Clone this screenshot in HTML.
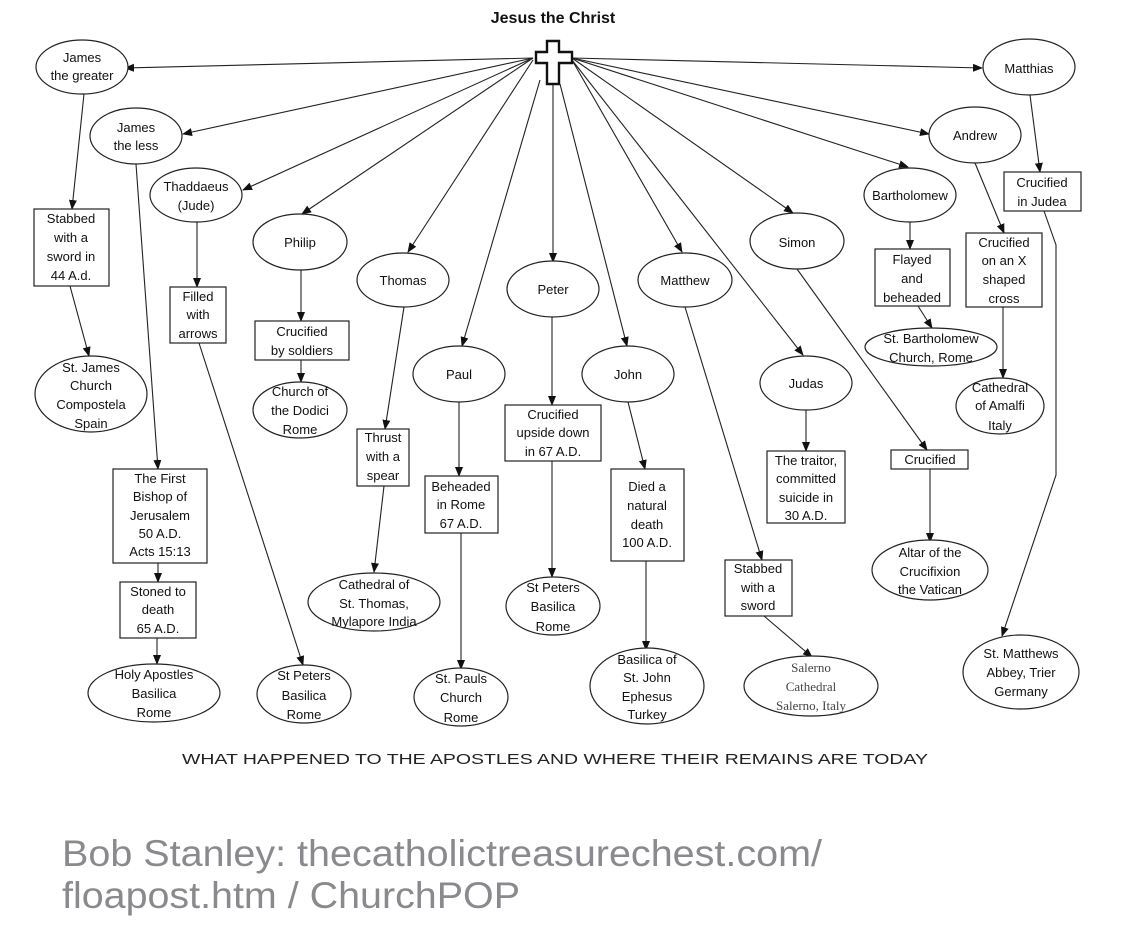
<!DOCTYPE html>
<html><head><meta charset="utf-8"><style>
html,body{margin:0;padding:0;background:#fff;width:1125px;height:932px;overflow:hidden}
svg{display:block}
text{font-family:"Liberation Sans",sans-serif;font-size:13px;fill:#111;text-anchor:middle}
.e,.b{fill:#fff;stroke:#222;stroke-width:1.2}
.l{stroke:#222;stroke-width:1.1;fill:none}
</style></head><body>
<svg width="1125" height="932" viewBox="0 0 1125 932" xmlns="http://www.w3.org/2000/svg">
<defs><marker id="a" markerWidth="10" markerHeight="10" refX="9" refY="4" orient="auto" markerUnits="userSpaceOnUse"><path d="M0,0 L10,4 L0,8 z" fill="#111"/></marker></defs>
<text x="553" y="23" style="font-size:16px;font-weight:bold">Jesus the Christ</text>

<!-- hub edges -->
<g class="l" marker-end="url(#a)">
<line x1="533" y1="58" x2="125" y2="68" marker-end="url(#a)"/>
<line x1="533" y1="58" x2="183" y2="134" marker-end="url(#a)"/>
<line x1="533" y1="58" x2="243" y2="190" marker-end="url(#a)"/>
<line x1="533" y1="58" x2="302" y2="214" marker-end="url(#a)"/>
<line x1="533" y1="60" x2="408" y2="252" marker-end="url(#a)"/>
<line x1="540" y1="80" x2="462" y2="346" marker-end="url(#a)"/>
<line x1="553" y1="84" x2="553" y2="262" marker-end="url(#a)"/>
<line x1="560" y1="84" x2="627" y2="346" marker-end="url(#a)"/>
<line x1="572" y1="60" x2="682" y2="252" marker-end="url(#a)"/>
<line x1="572" y1="60" x2="803" y2="355" marker-end="url(#a)"/>
<line x1="572" y1="58" x2="793" y2="213" marker-end="url(#a)"/>
<line x1="572" y1="58" x2="908" y2="167" marker-end="url(#a)"/>
<line x1="572" y1="58" x2="929" y2="134" marker-end="url(#a)"/>
<line x1="572" y1="58" x2="982" y2="68" marker-end="url(#a)"/>
<!-- child edges -->
<line x1="84" y1="94" x2="72" y2="209" marker-end="url(#a)"/>
<line x1="70" y1="286" x2="89" y2="356" marker-end="url(#a)"/>
<line x1="136" y1="164" x2="158" y2="469" marker-end="url(#a)"/>
<line x1="158" y1="563" x2="158" y2="582" marker-end="url(#a)"/>
<line x1="157" y1="638" x2="157" y2="664" marker-end="url(#a)"/>
<line x1="197" y1="222" x2="197" y2="287" marker-end="url(#a)"/>
<line x1="199" y1="343" x2="303" y2="665" marker-end="url(#a)"/>
<line x1="301" y1="269" x2="301" y2="321" marker-end="url(#a)"/>
<line x1="301" y1="360" x2="301" y2="382" marker-end="url(#a)"/>
<line x1="404" y1="307" x2="385" y2="429" marker-end="url(#a)"/>
<line x1="384" y1="486" x2="374" y2="572" marker-end="url(#a)"/>
<line x1="459" y1="402" x2="459" y2="476" marker-end="url(#a)"/>
<line x1="461" y1="533" x2="461" y2="669" marker-end="url(#a)"/>
<line x1="552" y1="316" x2="552" y2="405" marker-end="url(#a)"/>
<line x1="552" y1="461" x2="552" y2="577" marker-end="url(#a)"/>
<line x1="628" y1="402" x2="645" y2="469" marker-end="url(#a)"/>
<line x1="646" y1="561" x2="646" y2="650" marker-end="url(#a)"/>
<line x1="685" y1="307" x2="762" y2="560" marker-end="url(#a)"/>
<line x1="764" y1="616" x2="812" y2="657" marker-end="url(#a)"/>
<line x1="806" y1="410" x2="806" y2="451" marker-end="url(#a)"/>
<line x1="797" y1="269" x2="927" y2="450" marker-end="url(#a)"/>
<line x1="930" y1="469" x2="930" y2="542" marker-end="url(#a)"/>
<line x1="910" y1="222" x2="910" y2="249" marker-end="url(#a)"/>
<line x1="918" y1="306" x2="932" y2="328" marker-end="url(#a)"/>
<line x1="975" y1="163" x2="1004" y2="233" marker-end="url(#a)"/>
<line x1="1003" y1="307" x2="1003" y2="378" marker-end="url(#a)"/>
<line x1="1030" y1="95" x2="1040" y2="172" marker-end="url(#a)"/>
<polyline points="1044,211 1056,245 1056,475 1002,636" marker-end="url(#a)"/>
</g>

<!-- cross -->
<path d="M547,41 H559 V52 H572 V63 H559 V84 H547 V63 H536 V52 H547 Z" fill="#fff" stroke="#111" stroke-width="2.4"/>

<!-- ellipses -->
<g class="e">
<ellipse cx="82" cy="67" rx="46" ry="27"/>
<ellipse cx="136" cy="136" rx="46" ry="28"/>
<ellipse cx="196" cy="195" rx="46" ry="27"/>
<ellipse cx="300" cy="242" rx="47" ry="28"/>
<ellipse cx="403" cy="280" rx="46" ry="27"/>
<ellipse cx="459" cy="374" rx="46" ry="28"/>
<ellipse cx="553" cy="289" rx="46" ry="28"/>
<ellipse cx="628" cy="374" rx="46" ry="28"/>
<ellipse cx="685" cy="280" rx="47" ry="27"/>
<ellipse cx="797" cy="241" rx="47" ry="28"/>
<ellipse cx="806" cy="383" rx="46" ry="27"/>
<ellipse cx="910" cy="195" rx="46" ry="27"/>
<ellipse cx="975" cy="135" rx="46" ry="28"/>
<ellipse cx="1029" cy="67" rx="46" ry="28"/>
<ellipse cx="91" cy="394" rx="56" ry="38"/>
<ellipse cx="300" cy="410" rx="47" ry="28"/>
<ellipse cx="931" cy="347" rx="66" ry="19"/>
<ellipse cx="1000" cy="406" rx="44" ry="28"/>
<ellipse cx="154" cy="693" rx="66" ry="29"/>
<ellipse cx="304" cy="694" rx="47" ry="29"/>
<ellipse cx="374" cy="602" rx="66" ry="29"/>
<ellipse cx="461" cy="697" rx="47" ry="29"/>
<ellipse cx="553" cy="606" rx="47" ry="29"/>
<ellipse cx="647" cy="686" rx="57" ry="38"/>
<ellipse cx="811" cy="686" rx="67" ry="30"/>
<ellipse cx="930" cy="570" rx="58" ry="30"/>
<ellipse cx="1021" cy="672" rx="58" ry="37"/>
</g>
<!-- boxes -->
<g class="b">
<rect x="34" y="209" width="75" height="77"/>
<rect x="170" y="287" width="56" height="56"/>
<rect x="255" y="321" width="94" height="39"/>
<rect x="357" y="429" width="52" height="57"/>
<rect x="425" y="476" width="73" height="57"/>
<rect x="505" y="405" width="96" height="56"/>
<rect x="611" y="469" width="73" height="92"/>
<rect x="113" y="469" width="94" height="94"/>
<rect x="120" y="582" width="76" height="56"/>
<rect x="767" y="451" width="78" height="72"/>
<rect x="725" y="560" width="67" height="56"/>
<rect x="891" y="450" width="77" height="19"/>
<rect x="875" y="249" width="75" height="57"/>
<rect x="966" y="233" width="76" height="74"/>
<rect x="1004" y="172" width="77" height="39"/>
</g>

<g>
<text x="82" y="62">James</text><text x="82" y="80">the greater</text>
<text x="136" y="132">James</text><text x="136" y="150">the less</text>
<text x="196" y="191">Thaddaeus</text><text x="196" y="210">(Jude)</text>
<text x="300" y="247">Philip</text>
<text x="403" y="285">Thomas</text>
<text x="459" y="379">Paul</text>
<text x="553" y="294">Peter</text>
<text x="628" y="379">John</text>
<text x="685" y="285">Matthew</text>
<text x="797" y="247">Simon</text>
<text x="806" y="388">Judas</text>
<text x="910" y="200">Bartholomew</text>
<text x="975" y="140">Andrew</text>
<text x="1029" y="73">Matthias</text>

<text x="71" y="223">Stabbed</text><text x="71" y="242">with a</text><text x="71" y="261">sword in</text><text x="71" y="280">44 A.d.</text>
<text x="91" y="372">St. James</text><text x="91" y="390">Church</text><text x="91" y="409">Compostela</text><text x="91" y="428">Spain</text>
<text x="198" y="301">Filled</text><text x="198" y="319">with</text><text x="198" y="338">arrows</text>
<text x="302" y="336">Crucified</text><text x="302" y="355">by soldiers</text>
<text x="300" y="396">Church of</text><text x="300" y="415">the Dodici</text><text x="300" y="434">Rome</text>
<text x="383" y="442">Thrust</text><text x="383" y="461">with a</text><text x="383" y="480">spear</text>
<text x="461" y="491">Beheaded</text><text x="461" y="509">in Rome</text><text x="461" y="528">67 A.D.</text>
<text x="553" y="419">Crucified</text><text x="553" y="437">upside down</text><text x="553" y="456">in 67 A.D.</text>
<text x="647" y="491">Died a</text><text x="647" y="510">natural</text><text x="647" y="529">death</text><text x="647" y="547">100 A.D.</text>
<text x="160" y="483">The First</text><text x="160" y="501">Bishop of</text><text x="160" y="520">Jerusalem</text><text x="160" y="538">50 A.D.</text><text x="160" y="556">Acts 15:13</text>
<text x="158" y="596">Stoned to</text><text x="158" y="614">death</text><text x="158" y="633">65 A.D.</text>
<text x="154" y="679">Holy Apostles</text><text x="154" y="698">Basilica</text><text x="154" y="717">Rome</text>
<text x="304" y="680">St Peters</text><text x="304" y="700">Basilica</text><text x="304" y="719">Rome</text>
<text x="374" y="589">Cathedral of</text><text x="374" y="608">St. Thomas,</text><text x="374" y="626">Mylapore India</text>
<text x="461" y="683">St. Pauls</text><text x="461" y="702">Church</text><text x="461" y="722">Rome</text>
<text x="553" y="592">St Peters</text><text x="553" y="611">Basilica</text><text x="553" y="631">Rome</text>
<text x="647" y="664">Basilica of</text><text x="647" y="682">St. John</text><text x="647" y="701">Ephesus</text><text x="647" y="719">Turkey</text>
<text x="806" y="465">The traitor,</text><text x="806" y="483">committed</text><text x="806" y="502">suicide in</text><text x="806" y="520">30 A.D.</text>
<text x="758" y="573">Stabbed</text><text x="758" y="592">with a</text><text x="758" y="610">sword</text>
<g style="font-family:'Liberation Serif',serif"><text x="811" y="672" style="font-family:'Liberation Serif',serif;fill:#444">Salerno</text><text x="811" y="691" style="font-family:'Liberation Serif',serif;fill:#444">Cathedral</text><text x="811" y="710" style="font-family:'Liberation Serif',serif;fill:#444">Salerno, Italy</text></g>
<text x="930" y="464">Crucified</text>
<text x="930" y="557">Altar of the</text><text x="930" y="576">Crucifixion</text><text x="930" y="594">the Vatican</text>
<text x="912" y="264">Flayed</text><text x="912" y="283">and</text><text x="912" y="302">beheaded</text>
<text x="931" y="343">St. Bartholomew</text><text x="931" y="362">Church, Rome</text>
<text x="1004" y="247">Crucified</text><text x="1004" y="265">on an X</text><text x="1004" y="284">shaped</text><text x="1004" y="303">cross</text>
<text x="1042" y="187">Crucified</text><text x="1042" y="206">in Judea</text>
<text x="1000" y="392">Cathedral</text><text x="1000" y="410">of Amalfi</text><text x="1000" y="430">Italy</text>
<text x="1021" y="658">St. Matthews</text><text x="1021" y="677">Abbey, Trier</text><text x="1021" y="696">Germany</text>
</g>

<text x="555" y="764" style="font-size:15px;fill:#222" textLength="746" lengthAdjust="spacingAndGlyphs">WHAT HAPPENED TO THE APOSTLES AND WHERE THEIR REMAINS ARE TODAY</text>

<text x="62" y="866" style="font-size:37px;fill:#8a8a8e;text-anchor:start" textLength="760" lengthAdjust="spacingAndGlyphs">Bob Stanley: thecatholictreasurechest.com/</text>
<text x="62" y="908" style="font-size:37px;fill:#8a8a8e;text-anchor:start" textLength="458" lengthAdjust="spacingAndGlyphs">floapost.htm / ChurchPOP</text>
</svg>
</body></html>
